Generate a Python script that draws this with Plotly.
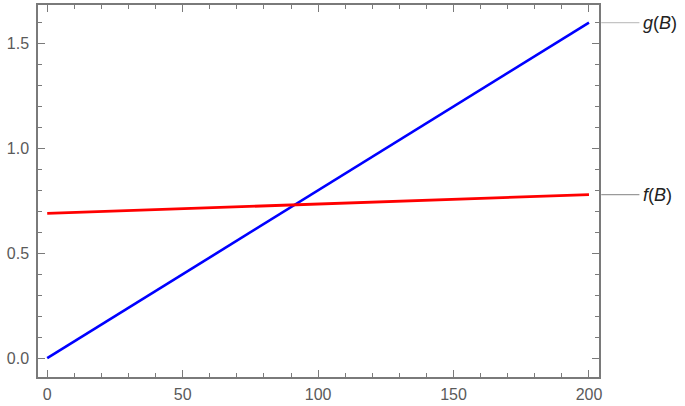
import plotly.graph_objects as go

# values
B = [0, 50, 100, 150, 200]
g_vals = [0.0, 0.4, 0.8, 1.2, 1.6]
f_vals = [0.69, 0.712, 0.735, 0.757, 0.78]
x_ticks = [0, 50, 100, 150, 200]
y_ticks = [0.0, 0.5, 1.0, 1.5]
labels = {"g": "<i>g</i>(<i>B</i>)", "f": "<i>f</i>(<i>B</i>)"}

FRAME = "#7a7a7a"
TICKFONT = dict(family="Liberation Sans, Arial", size=16, color="#5a5a5a")

fig = go.Figure()
fig.add_trace(go.Scatter(x=B, y=g_vals, mode="lines",
                         line=dict(color="#0000ff", width=2.6), showlegend=False))
fig.add_trace(go.Scatter(x=B, y=f_vals, mode="lines",
                         line=dict(color="#ff0000", width=2.8), showlegend=False))

axis_common = dict(
    showline=True, linecolor=FRAME, linewidth=1.5, mirror="ticks",
    ticks="inside", ticklen=7, tickwidth=1.2, tickcolor=FRAME,
    showgrid=False, zeroline=False, tickfont=TICKFONT,
)

fig.update_layout(
    width=685, height=406,
    margin=dict(l=38, r=86, t=3, b=27),
    plot_bgcolor="white", paper_bgcolor="white",
    xaxis=dict(range=[-3.4, 203.7], tickvals=x_ticks, ticklabelstandoff=2,
               minor=dict(dtick=10, ticks="inside", ticklen=4, tickcolor=FRAME, tickwidth=1.2),
               **axis_common),
    yaxis=dict(range=[-0.09, 1.684], tickvals=y_ticks, tickformat=".1f", ticklabelstandoff=4,
               minor=dict(dtick=0.1, ticks="inside", ticklen=4, tickcolor=FRAME, tickwidth=1.2),
               **axis_common),
)

# leader lines and curve labels at the right edge
for key, yv, col in [("g", g_vals[-1], "#c4c4c4"), ("f", f_vals[-1], "#9a9a9a")]:
    fig.add_shape(type="line", xref="paper", yref="y", x0=1.004, x1=1.072,
                  y0=yv, y1=yv, line=dict(color=col, width=1.3))
    fig.add_annotation(xref="paper", yref="y", x=1.074, y=yv, text=labels[key],
                       showarrow=False, xanchor="left", yanchor="middle",
                       font=dict(family="Liberation Sans, Arial", size=18, color="#222222"))

fig.write_html("out.html", config={"displayModeBar": False},
               post_script="document.body.style.margin='0';")
